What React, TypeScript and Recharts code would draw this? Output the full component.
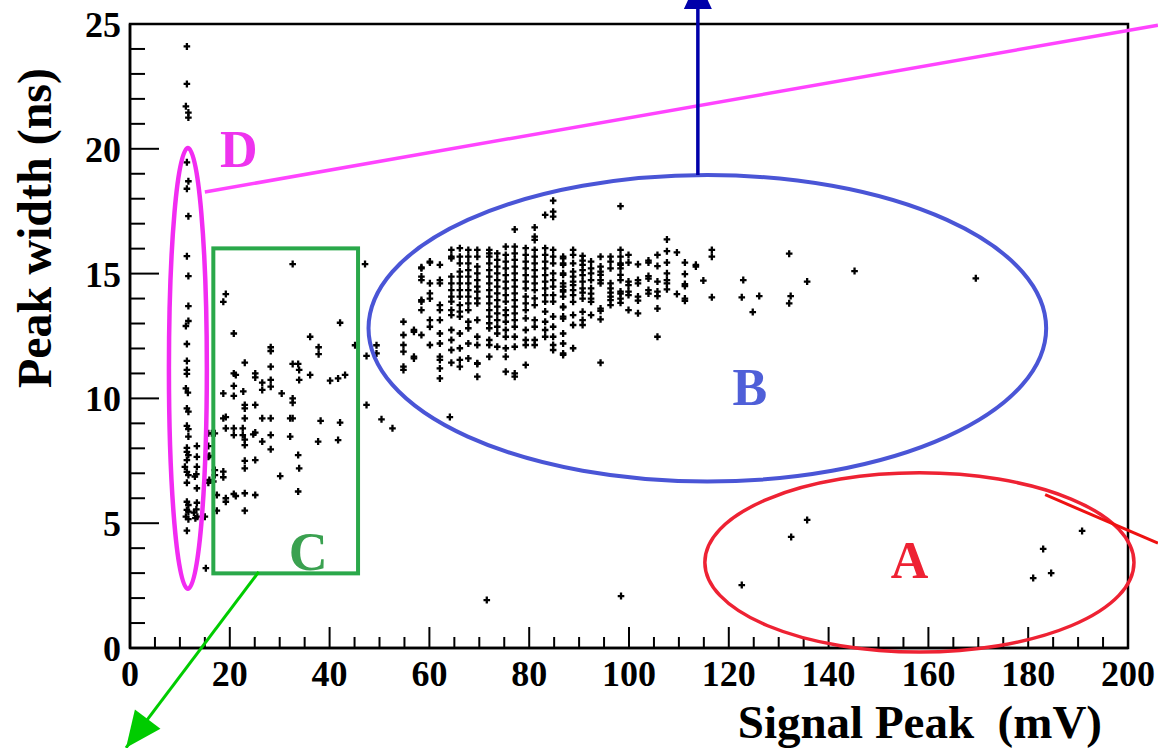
import { ScatterChart, Scatter, XAxis, YAxis } from "recharts";

// axis ticks (minor + major)
const X_TICKS = [
  0, 5, 10, 15, 20, 25, 30, 35, 40, 45, 50, 55, 60, 65, 70, 75, 80, 85, 90, 95,
  100, 105, 110, 115, 120, 125, 130, 135, 140, 145, 150, 155, 160, 165, 170,
  175, 180, 185, 190, 195, 200,
];
const Y_TICKS = [
  0, 1, 2, 3, 4, 5, 6, 7, 8, 9, 10, 11, 12, 13, 14, 15, 16, 17, 18, 19, 20, 21,
  22, 23, 24, 25,
];

// region D: narrow column at low signal peak
const D_POINTS: [number, number][] = [
  [11.4, 24.1], [11.4, 22.6], [11.2, 21.7], [11.7, 21.45], [11.7, 21.25],
  [11.4, 19.46], [11.7, 18.7], [11.4, 18.4], [11.7, 17.3], [11.4, 15.7],
  [11.7, 14.9], [11.7, 13.7], [11.7, 13.1], [11.2, 12.9], [11.4, 12.18],
  [11.4, 11.5], [11.4, 11.14], [11.4, 10.98], [11.2, 10.4], [11.6, 10.23],
  [11.4, 9.6], [11.7, 9.47], [11.4, 8.9], [11.7, 8.77], [11.7, 8.47],
  [11.4, 8.02], [11.4, 7.86], [11.7, 7.73], [11.4, 7.53], [11.0, 7.26],
  [11.4, 7.06], [11.7, 6.93], [11.4, 6.62], [11.4, 5.86], [11.7, 5.73],
  [11.4, 5.53], [11.7, 5.46], [11.2, 5.26], [11.7, 5.16], [11.4, 4.7],
  [13.4, 8.09], [13.4, 7.66], [13.4, 7.26], [13.3, 6.97], [13.0, 6.87],
  [13.4, 6.4], [13.4, 5.82], [13.3, 5.55], [12.8, 5.42], [13.5, 5.26],
  [13.1, 5.2], [15.0, 5.26], [15.7, 8.6], [15.7, 8.09], [15.7, 7.66],
  [15.7, 6.62], [16.4, 8.6], [15.9, 7.7], [15.9, 6.73], [16.7, 6.67],
  [17.0, 7.13], [17.0, 6.93], [17.4, 6.13], [17.4, 5.5], [17.0, 8.6],
  [15.2, 3.2],
];

// region C: sparse band between D and B
const C_POINTS: [number, number][] = [
  [47.1, 15.38], [32.6, 15.38], [19.2, 14.18], [18.7, 13.87], [42.1, 13.03],
  [20.8, 12.6], [36.1, 12.47], [28.2, 12.05], [28.2, 11.9], [37.8, 12.05],
  [37.8, 11.77], [45.1, 12.13], [49.4, 12.13], [47.4, 11.7], [49.4, 11.8],
  [23.0, 11.43], [28.2, 11.27], [32.6, 11.38], [33.7, 11.38], [33.9, 11.14],
  [20.8, 11.0], [21.2, 10.94], [20.8, 10.5], [20.8, 10.1], [25.1, 11.0],
  [25.1, 10.84], [26.5, 10.63], [26.5, 10.34], [28.2, 10.74], [28.2, 10.47],
  [36.1, 10.94], [43.1, 10.94], [41.7, 10.8], [40.1, 10.71], [33.9, 10.74],
  [18.7, 10.2], [22.7, 10.28], [30.4, 10.2], [32.6, 10.0], [32.6, 9.83],
  [23.0, 9.74], [23.0, 9.6], [25.1, 9.74], [47.4, 9.74], [18.7, 9.2],
  [19.2, 9.25], [23.0, 9.2], [26.5, 9.2], [28.2, 9.2], [32.1, 9.2],
  [32.6, 9.2], [38.2, 9.1], [42.1, 9.03], [50.4, 9.16], [52.6, 8.8],
  [19.2, 8.8], [20.8, 8.8], [22.6, 8.8], [20.8, 8.53], [22.6, 8.53],
  [23.0, 8.35], [23.0, 8.13], [25.1, 8.63], [24.7, 8.56], [26.5, 8.27],
  [28.2, 8.53], [28.2, 7.96], [32.1, 8.47], [37.7, 8.27], [41.7, 8.33],
  [33.7, 7.73], [33.9, 7.2], [30.1, 6.89], [23.0, 7.5], [23.0, 7.2],
  [25.1, 7.53], [18.7, 7.07], [18.7, 6.84], [19.2, 6.0], [19.2, 5.86],
  [20.8, 6.17], [21.2, 6.09], [23.0, 6.2], [25.1, 6.13], [23.0, 5.5],
  [33.7, 6.27], [64.1, 9.25],
];

// region B: dense cluster, read column by column (signal peak, widths)
const B_COLUMNS: [number, number[]][] = [
  [54.8, [13.07, 12.54, 12.14, 11.87, 11.27, 11.14]],
  [56.9, [12.74, 11.67, 12.67, 11.6]],
  [58.4, [15.25, 14.88, 14.74, 13.94, 13.54, 12.54, 15.21, 13.88]],
  [60.1, [15.44, 14.61, 14.21, 13.14, 12.87, 12.14, 15.48, 14.0]],
  [62.1, [15.35, 14.74, 14.61, 13.74, 13.54, 13.14, 12.6, 12.2, 11.67, 11.54, 11.2, 10.8]],
  [64.4, [15.95, 15.68, 14.88, 14.61, 14.34, 14.08, 13.88, 13.54, 13.34, 12.74, 12.34, 11.94, 15.61, 11.43]],
  [66.1, [16.02, 15.08, 14.88, 14.61, 14.34, 14.08, 13.74, 13.48, 13.28, 12.6, 12.01, 11.27, 11.54, 15.68, 15.41]],
  [67.8, [15.95, 15.68, 15.41, 15.14, 14.88, 14.61, 14.34, 14.08, 13.81, 13.54, 13.07, 12.81, 12.2, 11.6]],
  [69.6, [15.95, 15.68, 15.28, 15.01, 14.74, 14.48, 14.28, 14.01, 13.81, 13.14, 12.47, 12.14, 11.41, 11.38, 10.87]],
  [72.0, [15.95, 15.81, 15.68, 15.41, 15.14, 14.88, 14.61, 14.34, 14.08, 13.81, 13.54, 13.28, 13.01, 12.81, 12.34, 12.14, 11.67]],
  [73.6, [15.81, 15.55, 15.28, 15.01, 14.74, 14.48, 14.21, 13.94, 13.68, 13.41, 13.14, 12.87, 12.6, 12.07]],
  [75.3, [16.08, 15.75, 15.48, 15.21, 14.94, 14.68, 14.41, 14.14, 13.88, 13.54, 13.34, 13.07, 12.74, 12.47, 12.01, 11.67, 11.07]],
  [77.1, [16.08, 15.81, 15.55, 15.28, 15.01, 14.74, 14.48, 14.21, 13.94, 13.68, 13.41, 13.14, 12.87, 12.47, 12.07, 11.0, 10.87, 16.77]],
  [79.3, [16.02, 15.75, 15.48, 15.21, 14.94, 14.68, 14.41, 14.08, 13.81, 13.54, 13.21, 12.74, 12.34, 12.14, 11.34]],
  [81.1, [16.48, 15.95, 15.68, 15.41, 15.14, 14.88, 14.61, 14.34, 14.01, 13.74, 13.14, 12.87, 12.34, 12.14, 16.85, 16.35]],
  [83.2, [16.02, 15.75, 15.48, 15.21, 14.94, 14.68, 14.41, 14.14, 13.88, 13.48, 13.07, 12.74, 12.47, 17.35]],
  [84.8, [15.95, 15.68, 15.41, 15.01, 14.74, 14.48, 14.14, 13.88, 13.28, 12.87, 12.47, 12.14, 17.92, 17.48, 17.28, 11.94]],
  [86.8, [15.68, 15.41, 15.01, 14.61, 14.34, 14.08, 13.68, 13.28, 12.6, 12.2, 11.74, 15.61, 15.35, 14.95, 14.48, 14.28, 13.65, 13.2, 11.8]],
  [88.8, [15.95, 15.75, 15.41, 15.08, 14.88, 14.68, 14.54, 14.34, 14.14, 13.87, 13.34, 12.94, 12.01]],
  [90.7, [15.71, 15.52, 15.35, 15.14, 14.94, 14.68, 14.41, 14.24, 14.0, 13.47, 13.14, 12.94]],
  [92.4, [15.48, 15.21, 15.01, 14.74, 14.41, 14.2, 14.0, 13.87, 13.34]],
  [94.3, [15.68, 15.28, 15.08, 14.95, 14.74, 14.61, 13.6, 13.51, 13.17, 11.43]],
  [96.3, [15.68, 15.48, 15.21, 14.61, 14.41, 14.24, 14.08, 13.94, 13.74]],
  [98.3, [15.95, 15.68, 15.41, 15.21, 14.2, 14.0, 13.83, 14.95, 14.74, 14.28, 15.35, 17.7]],
  [99.9, [15.75, 15.44, 14.68, 14.54, 14.28, 14.14, 13.54]],
  [101.8, [15.37, 14.74, 14.61, 14.08, 13.92, 13.41]],
  [103.9, [15.52, 15.44, 14.9, 14.8, 14.34, 14.2]],
  [105.7, [15.75, 15.3, 14.68, 14.28, 14.1, 13.6, 12.47]],
  [107.6, [16.37, 15.44, 15.01, 14.74, 14.61, 14.37, 15.9]],
  [109.6, [15.85, 14.18]],
  [111.2, [15.44, 14.98, 14.58, 14.5, 14.0, 13.91]],
  [113.4, [15.35, 15.28]],
  [114.9, [14.72]],
  [116.6, [15.95, 15.68, 14.05]],
];

// scattered points right of the cluster and in region A
const OTHER_POINTS: [number, number][] = [
  [122.9, 14.74], [122.6, 14.05], [124.8, 13.46], [126.1, 14.1],
  [132.1, 15.8], [135.7, 14.68], [132.4, 14.1], [132.1, 13.81],
  [145.2, 15.1], [169.5, 14.81],
  [71.5, 1.92], [98.4, 2.08], [122.6, 2.52], [132.5, 4.45], [135.7, 5.13],
  [181.0, 2.8], [183.0, 3.97], [184.6, 3.0], [190.8, 4.69],
];

const ALL_POINTS = [
  ...D_POINTS,
  ...C_POINTS,
  ...B_COLUMNS.flatMap(([x, ys]) => ys.map((y) => [x, y] as [number, number])),
  ...OTHER_POINTS,
].map(([x, y]) => ({ x, y }));

// layout
const W = 1158;
const H = 748;
const LEFT = 130;
const TOP = 24;
const RIGHT = 1128;
const BOTTOM = 648;
const FONT = "'Liberation Serif', 'Times New Roman', Times, 'DejaVu Serif', serif";

const sx = (v: number) => LEFT + (v / 200) * (RIGHT - LEFT);
const sy = (v: number) => BOTTOM - (v / 25) * (BOTTOM - TOP);

function Cross(props: any) {
  const { cx, cy } = props;
  if (cx == null || cy == null) return null;
  return (
    <path
      d={`M${cx - 3.3},${cy}h6.6M${cx},${cy - 3.5}v7`}
      stroke="#000"
      strokeWidth={2.3}
    />
  );
}

function XTick(props: any) {
  const { x, y, payload } = props;
  const v = payload.value;
  const major = v % 20 === 0;
  return (
    <g>
      <line x1={x} y1={y} x2={x} y2={y - (major ? 21 : 11)} stroke="#000" strokeWidth={2} />
      {major && (
        <text x={x} y={y + 38} textAnchor="middle" style={{ fontFamily: FONT }} fontWeight="bold" fontSize={36} fill="#000">
          {v}
        </text>
      )}
    </g>
  );
}

function YTick(props: any) {
  const { x, y, payload } = props;
  const v = payload.value;
  const major = v % 5 === 0;
  return (
    <g>
      <line x1={x} y1={y} x2={x + (major ? 29 : 15)} y2={y} stroke="#000" strokeWidth={2} />
      {major && (
        <text x={x - 9} y={y + 13} textAnchor="end" style={{ fontFamily: FONT }} fontWeight="bold" fontSize={36} fill="#000">
          {v}
        </text>
      )}
    </g>
  );
}

function arrowHead(x1: number, y1: number, x2: number, y2: number, len: number, half: number) {
  const dx = x2 - x1;
  const dy = y2 - y1;
  const d = Math.hypot(dx, dy);
  const ux = dx / d;
  const uy = dy / d;
  const bx = x2 - ux * len;
  const by = y2 - uy * len;
  return `${x2},${y2} ${bx - uy * half},${by + ux * half} ${bx + uy * half},${by - ux * half}`;
}

function Annotations() {
  // green arrow from box C
  const g1 = [sx(25.8), sy(3.05)];
  const g2 = [sx(-0.8), sy(-4.0)];
  // blue arrow from ellipse B
  const bx = sx(113.8);
  const b1 = sy(18.95);
  const bTip = -21;
  return (
    <svg
      width={W}
      height={H}
      style={{ position: "absolute", left: 0, top: 0, pointerEvents: "none", overflow: "visible", fontFamily: FONT }}
    >
      <rect x={LEFT} y={TOP} width={RIGHT - LEFT} height={BOTTOM - TOP} fill="none" stroke="#000" strokeWidth={2.5} />

      {/* D */}
      <ellipse
        cx={sx(11.6)} cy={sy(11.2)}
        rx={sx(3.8) - sx(0)} ry={sy(0) - sy(8.83)}
        fill="none" stroke="#f22cf2" strokeWidth={4.5}
      />
      <line x1={sx(15.0)} y1={sy(18.27)} x2={sx(206)} y2={sy(24.95)} stroke="#ff44ff" strokeWidth={3.5} />
      <text x={sx(21.8)} y={167} textAnchor="middle" fontWeight="bold" fontSize={52} fill="#ee33ee">D</text>

      {/* C */}
      <rect
        x={sx(16.7)} y={sy(16.01)}
        width={sx(45.7) - sx(16.7)} height={sy(2.99) - sy(16.01)}
        fill="none" stroke="#2aa84a" strokeWidth={4}
      />
      <text x={sx(35.7)} y={570} textAnchor="middle" fontWeight="bold" fontSize={54} fill="#3aa150">C</text>
      <line x1={g1[0]} y1={g1[1]} x2={g2[0]} y2={g2[1]} stroke="#00cc00" strokeWidth={3} />
      <polygon points={arrowHead(g1[0], g1[1], g2[0], g2[1], 36, 16)} fill="#00cc00" />

      {/* B */}
      <ellipse
        cx={sx(115.7)} cy={sy(12.81)}
        rx={sx(67.9) - sx(0)} ry={sy(0) - sy(6.14)}
        fill="none" stroke="#4a55d6" strokeWidth={4}
      />
      <text x={sx(124.2)} y={405} textAnchor="middle" fontWeight="bold" fontSize={52} fill="#4f5fd8">B</text>
      <line x1={bx} y1={b1} x2={bx} y2={bTip + 20} stroke="#0000aa" strokeWidth={3.5} />
      <polygon points={arrowHead(bx, b1, bx, bTip, 30, 14)} fill="#0000aa" />

      {/* A */}
      <ellipse
        cx={sx(158.2)} cy={sy(3.43)}
        rx={sx(43.0) - sx(0)} ry={sy(0) - sy(3.59)}
        fill="none" stroke="#ee2233" strokeWidth={3.5}
      />
      <line x1={sx(183.4)} y1={sy(6.14)} x2={sx(206)} y2={sy(4.2)} stroke="#ee1111" strokeWidth={3} />
      <text x={sx(156.2)} y={578} textAnchor="middle" fontWeight="bold" fontSize={52} fill="#ee2233">A</text>

      {/* axis titles */}
      <text
        x={51} y={228}
        transform="rotate(-90, 51, 228)"
        textAnchor="middle" fontWeight="bold" fontSize={48} fill="#000"
      >
        Peak width (ns)
      </text>
      <text
        x={1102} y={738}
        textAnchor="end" fontWeight="bold" fontSize={47} fill="#000"
        style={{ whiteSpace: "pre" }}
      >
        {"Signal Peak  (mV)"}
      </text>
    </svg>
  );
}

export default function App() {
  return (
    <div style={{ position: "absolute", left: 0, top: 0, width: W, height: H, background: "#fff", fontFamily: FONT }}>
      <ScatterChart
        width={W}
        height={H}
        margin={{ top: TOP, right: W - RIGHT, bottom: 40, left: LEFT - 60 }}
      >
        <XAxis
          type="number"
          dataKey="x"
          domain={[0, 200]}
          ticks={X_TICKS}
          interval={0}
          height={60}
          tickSize={0}
          tickMargin={0}
          axisLine={{ stroke: "#000", strokeWidth: 2.5 }}
          tick={(p: any) => <XTick {...p} />}
        />
        <YAxis
          type="number"
          dataKey="y"
          domain={[0, 25]}
          ticks={Y_TICKS}
          interval={0}
          width={60}
          tickSize={0}
          tickMargin={0}
          axisLine={{ stroke: "#000", strokeWidth: 2.5 }}
          tick={(p: any) => <YTick {...p} />}
        />
        <Scatter data={ALL_POINTS} shape={Cross} isAnimationActive={false} />
      </ScatterChart>
      <Annotations />
    </div>
  );
}
